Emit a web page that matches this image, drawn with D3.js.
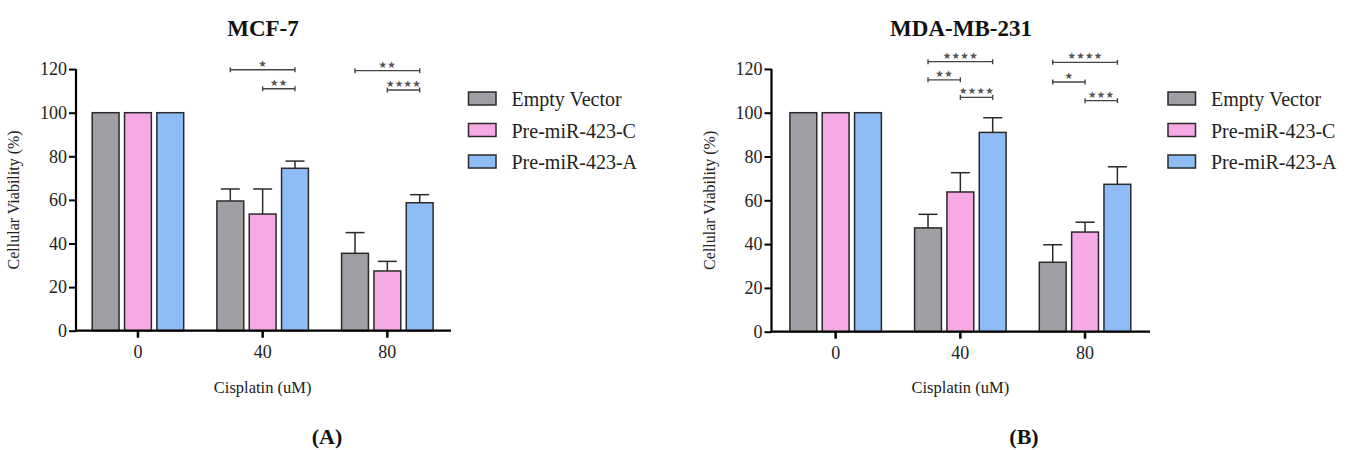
<!DOCTYPE html>
<html>
<head>
<meta charset="utf-8">
<script src="https://cdn.jsdelivr.net/npm/d3@7"></script>
<style>
  html, body { margin: 0; padding: 0; background: #fff; }
  svg { display: block; }
  svg text { font-family: "Liberation Serif", "Times New Roman", serif; }
  svg text.star { font-family: "DejaVu Sans", sans-serif; }
</style>
</head>
<body>
<svg id="chart" width="1348" height="450"></svg>
<script>
// ---------- DATA ----------
const categories = ["0", "40", "80"];
const seriesNames = ["Empty Vector", "Pre-miR-423-C", "Pre-miR-423-A"];
const seriesColors = ["#a19fa5", "#f5aae6", "#8ebcf6"];
const yTicks = [0, 20, 40, 60, 80, 100, 120];

// MCF-7 means and upper error (SD) per series, per cisplatin dose
const mcfEmpty = [100, 59.5, 35.5];
const mcfPreC  = [100, 53.5, 27.4];
const mcfPreA  = [100, 74.5, 58.7];
const mcfEmptyErr = [0, 5.5, 9.5];
const mcfPreCErr  = [0, 11.5, 4.4];
const mcfPreAErr  = [0, 3.3, 3.7];
// significance brackets: [category, fromSeries, toSeries, yValue, label]
const mcfSig = [
  ["40", 0, 2, 119.7, "*"],
  ["40", 1, 2, 111, "**"],
  ["80", 0, 2, 119.3, "**"],
  ["80", 1, 2, 110.4, "****"]
];

// MDA-MB-231
const mdaEmpty = [100, 47.4, 31.7];
const mdaPreC  = [100, 63.8, 45.5];
const mdaPreA  = [100, 91.0, 67.3];
const mdaEmptyErr = [0, 6.2, 8.0];
const mdaPreCErr  = [0, 8.8, 4.5];
const mdaPreAErr  = [0, 6.7, 8.0];
const mdaSig = [
  ["40", 0, 2, 123.3, "****"],
  ["40", 0, 1, 115, "**"],
  ["40", 1, 2, 107, "****"],
  ["80", 0, 2, 123, "****"],
  ["80", 0, 1, 114, "*"],
  ["80", 1, 2, 105.5, "***"]
];

// ---------- DRAW ----------
const svg = d3.select("#chart");

function panel(cfg) {
  const g = svg.append("g");
  const y = d3.scaleLinear().domain([0, 120]).range([cfg.y0, cfg.y120]);
  const x = d3.scaleBand().domain(categories).range([cfg.bandL, cfg.bandR]).paddingInner(0).paddingOuter(0);
  const xs = d3.scaleBand().domain(d3.range(seriesNames.length))
    .range([-48.5, 48.5]).paddingInner(0.17).paddingOuter(0.085);
  const center = c => x(c) + x.bandwidth() / 2;

  // title
  g.append("text").attr("x", cfg.titleX).attr("y", 36).attr("text-anchor", "middle")
    .attr("font-size", 23).attr("font-weight", "bold").attr("fill", "#111").text(cfg.title);

  // bars
  cfg.values.forEach((vals, si) => {
    const errs = cfg.errors[si];
    categories.forEach((c, ci) => {
      const bx = center(c) + xs(si);
      const bw = xs.bandwidth();
      const v = vals[ci];
      g.append("rect").attr("x", bx).attr("y", y(v)).attr("width", bw).attr("height", y(0) - y(v))
        .attr("fill", seriesColors[si]).attr("stroke", "#2a2a2a").attr("stroke-width", 1.5);
      if (errs[ci] > 0) {
        const cx = bx + bw / 2;
        g.append("line").attr("x1", cx).attr("x2", cx).attr("y1", y(v)).attr("y2", y(v + errs[ci]))
          .attr("stroke", "#2a2a2a").attr("stroke-width", 1.5);
        g.append("line").attr("x1", cx - 9.5).attr("x2", cx + 9.5)
          .attr("y1", y(v + errs[ci])).attr("y2", y(v + errs[ci]))
          .attr("stroke", "#2a2a2a").attr("stroke-width", 1.5);
      }
    });
  });

  // y axis
  const yAxis = d3.axisLeft(y).tickValues(yTicks).tickSize(7).tickPadding(2);
  const ya = g.append("g").attr("transform", `translate(${cfg.axisX},0)`).call(yAxis);
  ya.attr("font-family", null);
  ya.select(".domain").attr("stroke", "#000").attr("stroke-width", 2.2)
    .attr("d", `M0,${cfg.y120}V${cfg.y0 + 1}`);
  ya.selectAll(".tick line").attr("stroke", "#000").attr("stroke-width", 2);
  ya.selectAll(".tick text").attr("font-size", 18).attr("fill", "#222");

  // x axis
  const xAxis = d3.axisBottom(x).tickSize(7).tickPadding(8);
  const xa = g.append("g").attr("transform", `translate(0,${cfg.y0})`).call(xAxis);
  xa.attr("font-family", null);
  xa.select(".domain").attr("stroke", "#000").attr("stroke-width", 2.2)
    .attr("d", `M${cfg.axisX - 1},0H${cfg.axisEnd}`);
  xa.selectAll(".tick line").attr("stroke", "#000").attr("stroke-width", 2.5);
  xa.selectAll(".tick text").attr("font-size", 18).attr("fill", "#222");

  // axis titles
  g.append("text").attr("transform", `translate(${cfg.axisX - 57},${(cfg.y0 + cfg.y120) / 2}) rotate(-90)`)
    .attr("text-anchor", "middle").attr("font-size", 16).attr("fill", "#222").text("Cellular Viability (%)");
  g.append("text").attr("x", center("40")).attr("y", 393).attr("text-anchor", "middle")
    .attr("font-size", 16.5).attr("fill", "#222").text("Cisplatin (uM)");

  // significance brackets
  cfg.sig.forEach(([c, a, b, v, lab]) => {
    const x1 = center(c) + xs(a) + xs.bandwidth() / 2;
    const x2 = center(c) + xs(b) + xs.bandwidth() / 2;
    const yy = y(v);
    g.append("line").attr("x1", x1).attr("x2", x2).attr("y1", yy).attr("y2", yy)
      .attr("stroke", "#444").attr("stroke-width", 1.4);
    [x1, x2].forEach(xx => g.append("line").attr("x1", xx).attr("x2", xx)
      .attr("y1", yy - 2.5).attr("y2", yy + 2.5).attr("stroke", "#444").attr("stroke-width", 1.4));
    g.append("text").attr("class", "star").attr("x", (x1 + x2) / 2).attr("y", yy - 3).attr("text-anchor", "middle")
      .attr("font-size", 9.5).attr("fill", "#555")
      .attr("letter-spacing", 0.3)
      .text("\u2605".repeat(lab.length));
  });

  // legend
  seriesNames.forEach((name, i) => {
    const ly = cfg.legendY + i * 31.5;
    g.append("rect").attr("x", cfg.legendX).attr("y", ly).attr("width", 27.5).attr("height", 13)
      .attr("fill", seriesColors[i]).attr("stroke", "#2a2a2a").attr("stroke-width", 1.5);
    g.append("text").attr("x", cfg.legendX + 43).attr("y", ly + 14).attr("font-size", 20)
      .attr("fill", "#222").text(name);
  });

  // panel letter
  g.append("text").attr("x", cfg.letterX).attr("y", 444).attr("text-anchor", "middle")
    .attr("font-size", 22).attr("font-weight", "bold").attr("fill", "#111").text(cfg.letter);
}

panel({
  title: "MCF-7", titleX: 263, letter: "(A)", letterX: 327,
  values: [mcfEmpty, mcfPreC, mcfPreA], errors: [mcfEmptyErr, mcfPreCErr, mcfPreAErr],
  sig: mcfSig,
  y0: 330.7, y120: 69.1, axisX: 76, axisEnd: 451, bandL: 75.6, bandR: 449.7,
  legendX: 468.5, legendY: 92
});

panel({
  title: "MDA-MB-231", titleX: 961, letter: "(B)", letterX: 1024,
  values: [mdaEmpty, mdaPreC, mdaPreA], errors: [mdaEmptyErr, mdaPreCErr, mdaPreAErr],
  sig: mdaSig,
  y0: 331.7, y120: 68.9, axisX: 771.5, axisEnd: 1150, bandL: 773.3, bandR: 1147.4,
  legendX: 1168, legendY: 92
});
</script>
</body>
</html>
